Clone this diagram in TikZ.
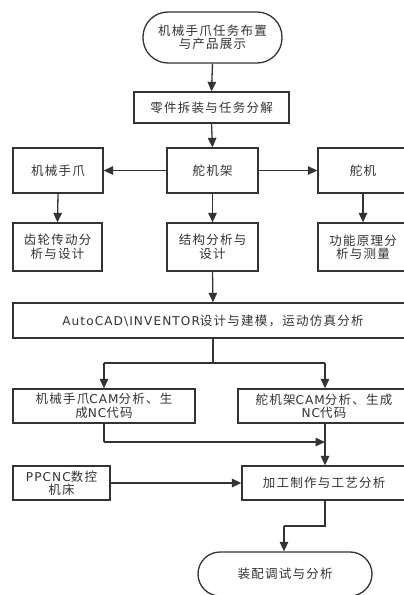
\documentclass[tikz,border=0pt]{standalone}
\usepackage{fontspec}
\setmainfont[LetterSpace=10]{Noto Sans CJK SC}
\newfontfamily\lat[Scale=0.97,LetterSpace=9]{DejaVu Sans}
\usetikzlibrary{arrows.meta}
\definecolor{ink}{HTML}{333333}
\begin{document}
\begin{tikzpicture}[x=1pt,y=-1pt,
  every node/.style={font=\fontsize{12.5}{13.5}\selectfont, text=ink, align=center, inner sep=0pt},
  box/.style={draw=ink, line width=1.3pt, minimum width=#1, fill=white},
  term/.style={draw=ink, line width=1.3pt, fill=white},
  conn/.style={draw=ink, line width=1.3pt, -{Triangle[length=9.5pt,width=8.5pt]}},
  plain/.style={draw=ink, line width=1.3pt}]
\useasboundingbox (0,0) rectangle (404,595);
% nodes
\node[term, rounded corners=25pt, minimum width=139pt, minimum height=51pt] (start) at (212.5,37.5) {机械手爪任务布置\\与产品展示};
\node[box=155pt, minimum height=31pt] (split) at (211.5,107.5) {零件拆装与任务分解};
\node[box=90pt, minimum height=45pt] (grip) at (58,170.5) {机械手爪};
\node[box=91pt, minimum height=45pt] (frame) at (212.5,170.5) {舵机架};
\node[box=90pt, minimum height=45pt] (servo) at (363,170.5) {舵机};
\node[box=89pt, minimum height=48pt] (gear) at (57.5,247) {齿轮传动分\\析与设计};
\node[box=91pt, minimum height=48pt] (struct) at (212.5,247) {结构分析与\\设计};
\node[box=90pt, minimum height=48pt] (func) at (363,247) {功能原理分\\析与测量};
\node[box=400pt, minimum height=35pt] (cad) at (213,320.5) {{\lat AutoCAD\textbackslash INVENTOR}设计与建模，运动仿真分析};
\node[box=182pt, minimum height=34pt] (camL) at (104,406) {机械手爪{\lat CAM}分析、生\\成{\lat NC}代码};
\node[box=172pt, minimum height=34pt] (camR) at (324,406) {舵机架{\lat CAM}分析、生成\\{\lat NC}代码};
\node[box=97pt, minimum height=34pt] (ppc) at (61.5,483) {{\lat PPCNC}数控\\机床};
\node[box=164pt, minimum height=34pt] (proc) at (324,483) {加工制作与工艺分析};
\node[term, rounded corners=22pt, minimum width=174pt, minimum height=44pt] (end) at (285,574) {装配调试与分析};
% helper coordinates
\coordinate (j1) at (213,363);
\coordinate (j1L) at (104,363);
\coordinate (j1R) at (325,363);
\coordinate (j2) at (104,442);
\coordinate (j2R) at (325,442);
\coordinate (j3) at (325,526);
\coordinate (j3L) at (284,526);
% connectors
\draw[conn] (start.south) -- (split.north);
\draw[conn] (split.south) -- (frame.north);
\draw[conn] (frame.west) -- (grip.east);
\draw[conn] (frame.east) -- (servo.west);
\draw[conn] (grip.south) -- (gear.north);
\draw[conn] (frame.south) -- (struct.north);
\draw[conn] (servo.south) -- (func.north);
\draw[conn] (struct.south) -- (cad.north);
\draw[plain] (cad.south) -- (j1);
\draw[plain] (j1L) -- (j1R);
\draw[conn] (j1L) -- (camL.north);
\draw[conn] (j1R) -- (j1R |- camR.north);
\draw[plain] (camL.south) -- (j2);
\draw[conn] (j2) -- (j2R);
\draw[conn] (j1R |- camR.south) -- (j1R |- proc.north);
\draw[conn] (ppc.east) -- (ppc.east -| proc.west);
\draw[plain] (j3 |- proc.south) -- (j3) -- (j3L);
\draw[conn] (j3L) -- (j3L |- end.north);
\end{tikzpicture}
\end{document}
